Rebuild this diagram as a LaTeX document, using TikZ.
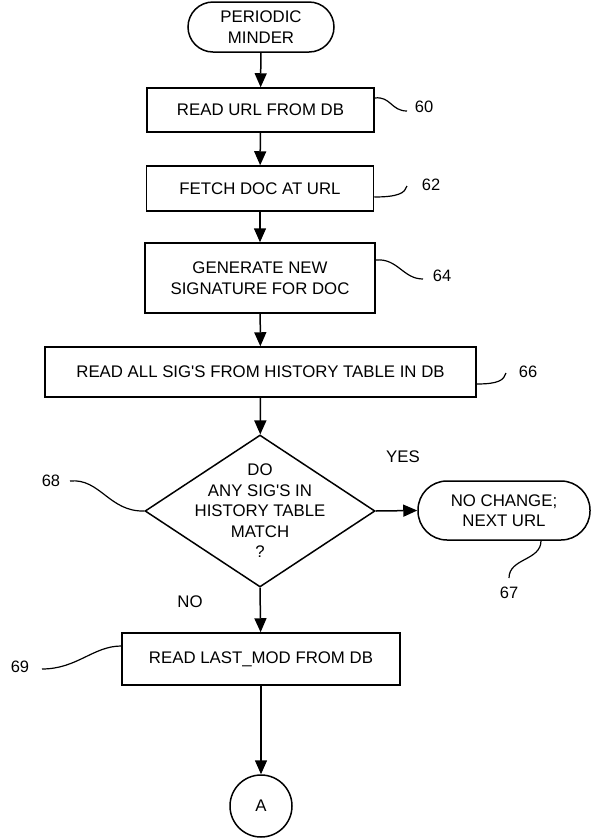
\documentclass[tikz,border=0pt]{standalone}
\usepackage{fontspec}
\setmainfont{Liberation Sans}
\usetikzlibrary{arrows.meta,shapes.geometric}
\begin{document}
\begin{tikzpicture}[x=1pt,y=-1pt,
  every node/.style={font=\fontsize{16.8}{20.5}\selectfont, inner sep=0pt},
  proc/.style={draw, line width=1.5pt, align=center},
  term/.style={draw, line width=1.5pt, align=center, rounded corners=#1},
  decision/.style={draw, diamond, line width=1.5pt, minimum width=230pt, minimum height=152pt},
  flow/.style={line width=1.5pt, -{Triangle[length=14pt,width=12pt]}},
  lead/.style={line width=1.2pt},
  ref/.style={font=\fontsize{16.5}{20}\selectfont}
]
\useasboundingbox (0,0) rectangle (592,839);

% main flow
\node[term=25pt, minimum width=146pt, minimum height=50pt] (start) at (261,27) {PERIODIC\\MINDER};
\node[proc, minimum width=227pt, minimum height=44pt] (b60) at (260.5,110) {READ URL FROM DB};
\node[proc, minimum width=227pt, minimum height=45pt] (b62) at (260,188.5) {FETCH DOC AT URL};
\node[proc, minimum width=230pt, minimum height=70pt] (b64) at (260,278) {GENERATE NEW\\SIGNATURE FOR DOC};
\node[proc, minimum width=431pt, minimum height=50pt] (b66) at (260.5,372) {READ ALL SIG\textquotesingle S FROM HISTORY TABLE IN DB};
\node[decision] (d68) at (260,511) {};
\node[align=center] (q68) at (d68.center) {DO\\ANY SIG\textquotesingle S IN\\HISTORY TABLE\\MATCH\\?};
\node[term=29pt, minimum width=172pt, minimum height=59pt] (t67) at (504,510.5) {NO CHANGE;\\NEXT URL};
\node[proc, minimum width=278pt, minimum height=52pt] (b69) at (261,659) {READ LAST\_MOD FROM DB};
\node[circle, draw, line width=1.5pt, minimum size=62pt] (conA) at (261,806) {A};

% branch labels
\node (yes) at (403,457) {YES};
\node (no) at (190,602) {NO};

% reference numerals
\node[ref] (n60) at (424,107) {60};
\node[ref] (n62) at (431,185) {62};
\node[ref] (n64) at (442,276) {64};
\node[ref] (n66) at (528,372) {66};
\node[ref] (n68) at (51,481) {68};
\node[ref] (n67) at (509,593) {67};
\node[ref] (n69) at (20,667) {69};

% free ends of the leader lines
\coordinate (e60) at (407,111);
\coordinate (e62) at (407,186);
\coordinate (e64) at (423,279);
\coordinate (e66) at (506,373);
\coordinate (e68) at (70,481);
\coordinate (e67) at (509,578);
\coordinate (e69) at (42,669);

% connectors
\draw[flow] (start) -- (b60);
\draw[flow] (b60) -- (b62);
\draw[flow] (b62) -- (b64);
\draw[flow] (b64) -- (b66);
\draw[flow] (b66) -- (d68);
\draw[flow] (d68.east) -- (t67.west);
\draw[flow] (d68.south) -- (b69);
\draw[flow] (b69) -- (conA);

% leader lines
\draw[lead] ([yshift=12pt]b60.east) .. controls +(16,-2) and +(-16,0) .. (e60);
\draw[lead] ([yshift=-8.5pt]b62.east) .. controls +(24,0) and +(-2,7) .. (e62);
\draw[lead] ([yshift=18pt]b64.east) .. controls +(22,-2) and +(-20,0) .. (e64);
\draw[lead] ([yshift=-12pt]b66.east) .. controls +(22,0) and +(-2,7) .. (e66);
\draw[lead] (d68.west) .. controls +(-35,1) and +(30,-3) .. (e68);
\draw[lead] ([xshift=37pt]t67.south) .. controls +(0,20) and +(0,-20) .. (e67);
\draw[lead] ([yshift=13pt]b69.west) .. controls +(-28,0) and +(35,0) .. (e69);
\end{tikzpicture}
\end{document}
